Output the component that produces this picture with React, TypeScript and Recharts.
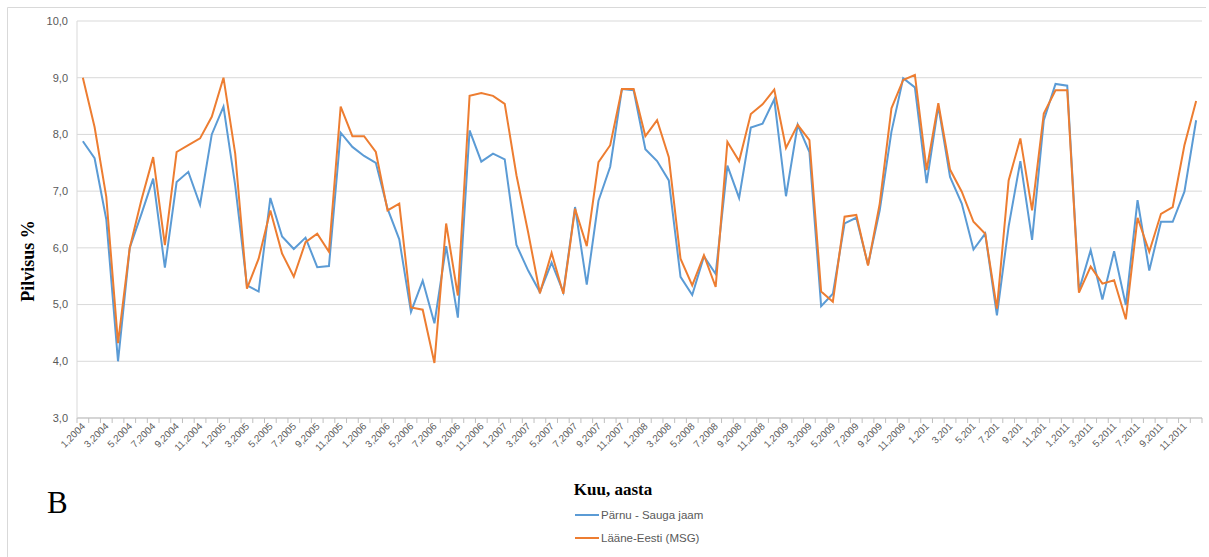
import { LineChart, Line, XAxis, YAxis, CartesianGrid } from "recharts"

// monthly cloudiness, Jan 2004 – Dec 2011
const years = ["2004", "2005", "2006", "2007", "2008", "2009", "201", "2011"]
const months = [1, 2, 3, 4, 5, 6, 7, 8, 9, 10, 11, 12]

const parnuSauga = [
  7.88, 7.58, 6.5, 4.0, 6.0, 6.6, 7.22, 5.65, 7.16, 7.34, 6.76, 8.0,
  8.49, 7.1, 5.34, 5.23, 6.88, 6.2, 5.98, 6.18, 5.66, 5.68, 8.03, 7.78,
  7.62, 7.5, 6.69, 6.15, 4.87, 5.42, 4.67, 6.03, 4.77, 8.07, 7.52, 7.66,
  7.56, 6.05, 5.6, 5.22, 5.74, 5.22, 6.72, 5.35, 6.83, 7.43, 8.8, 8.78,
  7.74, 7.53, 7.19, 5.49, 5.17, 5.85, 5.54, 7.45, 6.88, 8.12, 8.19, 8.62,
  6.91, 8.17, 7.69, 4.97, 5.19, 6.43, 6.53, 5.7, 6.66, 8.05, 8.99, 8.83,
  7.14, 8.5, 7.25, 6.78, 5.97, 6.25, 4.81, 6.38, 7.53, 6.14, 8.25, 8.89,
  8.86, 5.25, 5.96, 5.09, 5.94, 4.99, 6.84, 5.6, 6.46, 6.46, 6.99, 8.25,
]

const laaneEesti = [
  9.0, 8.13, 6.9, 4.32, 6.0, 6.85, 7.6, 6.05, 7.69, 7.81, 7.93, 8.31,
  9.0, 7.66, 5.28, 5.81, 6.66, 5.9, 5.49, 6.1, 6.25, 5.93, 8.49, 7.97,
  7.97, 7.69, 6.66, 6.78, 4.95, 4.91, 3.97, 6.43, 5.16, 8.68, 8.73, 8.68,
  8.54, 7.28, 6.27, 5.2, 5.91, 5.19, 6.69, 6.03, 7.51, 7.81, 8.8, 8.8,
  7.97, 8.25, 7.6, 5.81, 5.34, 5.87, 5.31, 7.87, 7.53, 8.36, 8.53, 8.79,
  7.76, 8.17, 7.9, 5.23, 5.05, 6.55, 6.58, 5.69, 6.78, 8.46, 8.96, 9.05,
  7.37, 8.55, 7.38, 6.99, 6.46, 6.25, 4.93, 7.19, 7.93, 6.66, 8.37, 8.78,
  8.78, 5.21, 5.67, 5.37, 5.43, 4.74, 6.53, 5.93, 6.6, 6.72, 7.81, 8.59,
]

const yTicks = [3, 4, 5, 6, 7, 8, 9, 10]

const data = years.flatMap((y, yi) =>
  months.map((m, mi) => ({
    label: `${m},${y}`,
    parnu: parnuSauga[yi * 12 + mi],
    laane: laaneEesti[yi * 12 + mi],
  }))
)

const W = 1209
const H = 557
const PLOT_LEFT = 77
const PLOT_RIGHT = 1202
const PLOT_TOP = 21
const PLOT_BOTTOM = 418
const HALF_BAND = (PLOT_RIGHT - PLOT_LEFT) / data.length / 2

const BLUE = "#5b9bd5"
const ORANGE = "#ed7d31"
const SANS = "'Liberation Sans', Arial, sans-serif"
const SERIF = "'Liberation Serif', 'Times New Roman', serif"

// tick marks sit between categories, labels on every other month
function MonthTick(props: any) {
  const { x, y, payload, index } = props
  return (
    <g>
      <line x1={x - HALF_BAND} y1={y} x2={x - HALF_BAND} y2={y + 5} stroke="#bfbfbf" />
      {index === data.length - 1 && (
        <line x1={x + HALF_BAND} y1={y} x2={x + HALF_BAND} y2={y + 5} stroke="#bfbfbf" />
      )}
      {index % 2 === 0 && (
        <text
          x={x + 3}
          y={y + 9}
          textAnchor="end"
          fontSize={9.8}
          fontFamily={SANS}
          fill="#595959"
          transform={`rotate(-45 ${x + 3} ${y + 9})`}
        >
          {payload.value}
        </text>
      )}
    </g>
  )
}

export default function App() {
  return (
    <div style={{ position: "absolute", left: 0, top: 0, width: W, height: H, background: "#fff" }}>
      <LineChart
        width={W}
        height={H}
        data={data}
        margin={{ top: PLOT_TOP, right: W - PLOT_RIGHT, left: PLOT_LEFT - 60, bottom: H - PLOT_BOTTOM - 40 }}
      >
        <CartesianGrid vertical={false} stroke="#d9d9d9" />
        <XAxis
          dataKey="label"
          interval={0}
          height={40}
          padding={{ left: HALF_BAND, right: HALF_BAND }}
          tickLine={false}
          tickSize={0}
          tickMargin={0}
          axisLine={{ stroke: "#bfbfbf" }}
          tick={<MonthTick />}
        />
        <YAxis
          width={60}
          domain={[3, 10]}
          ticks={yTicks}
          interval={0}
          allowDataOverflow
          tickLine={false}
          tickMargin={3}
          axisLine={{ stroke: "#d9d9d9" }}
          tickFormatter={(v: number) => v.toFixed(1).replace(".", ",")}
          tick={{ fontSize: 11, fontFamily: SANS, fill: "#595959" }}
        />
        <Line
          type="linear"
          dataKey="parnu"
          name="Pärnu - Sauga jaam"
          stroke={BLUE}
          strokeWidth={2}
          dot={false}
          isAnimationActive={false}
        />
        <Line
          type="linear"
          dataKey="laane"
          name="Lääne-Eesti (MSG)"
          stroke={ORANGE}
          strokeWidth={2}
          dot={false}
          isAnimationActive={false}
        />
      </LineChart>
      <svg
        width={W}
        height={H}
        style={{ position: "absolute", left: 0, top: 0, pointerEvents: "none" }}
      >
        <line x1={7.5} y1={7.5} x2={1206} y2={7.5} stroke="#d9d9d9" />
        <line x1={7.5} y1={7.5} x2={7.5} y2={H} stroke="#d9d9d9" />
        <text
          x={0}
          y={0}
          transform="translate(34 261) rotate(-90)"
          textAnchor="middle"
          fontFamily={SERIF}
          fontWeight="bold"
          fontSize={18}
          fill="#000"
        >
          Pilvisus %
        </text>
        <text x={613} y={495} textAnchor="middle" fontFamily={SERIF} fontWeight="bold" fontSize={17} fill="#000">
          Kuu, aasta
        </text>
        <text x={47} y={513} fontFamily={SERIF} fontSize={31} fill="#000">
          B
        </text>
        <line x1={575} y1={515} x2={599} y2={515} stroke={BLUE} strokeWidth={2} />
        <text x={601} y={519} fontFamily={SANS} fontSize={11.5} fill="#595959">
          Pärnu - Sauga jaam
        </text>
        <line x1={575} y1={538} x2={599} y2={538} stroke={ORANGE} strokeWidth={2} />
        <text x={601} y={542} fontFamily={SANS} fontSize={11.5} fill="#595959">
          Lääne-Eesti (MSG)
        </text>
      </svg>
    </div>
  )
}
